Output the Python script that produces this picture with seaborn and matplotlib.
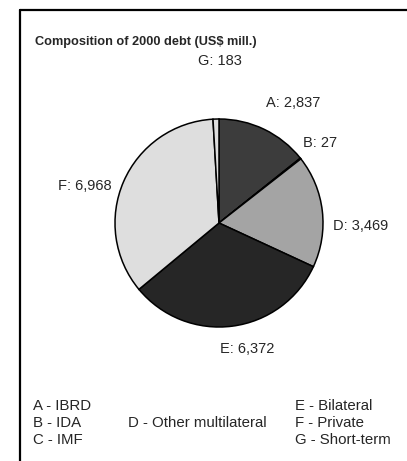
import matplotlib
matplotlib.use("Agg")
import matplotlib.pyplot as plt
import seaborn as sns
import numpy as np
from matplotlib.lines import Line2D

OUTPUT_FILE = 'out.png'

# --- data ---
codes = ['A', 'B', 'C', 'D', 'E', 'F', 'G']
names = ['IBRD', 'IDA', 'IMF', 'Other multilateral', 'Bilateral', 'Private', 'Short-term']
values = [2837, 27, 0, 3469, 6372, 6968, 183]
value_labels = ['2,837', '27', '0', '3,469', '6,372', '6,968', '183']

# scan-like grey fills
colors = {'A': '#3c3c3c', 'B': '#555555', 'C': '#888888', 'D': '#a4a4a4',
          'E': '#262626', 'F': '#dedede', 'G': '#dedede'}
# label placement: (distance in radii, angle nudge in degrees)
label_pos = {'A': (1.36, -6), 'B': (1.24, 0), 'D': (1.36, -8),
             'E': (1.24, 5), 'F': (1.34, 8), 'G': (1.56, -2)}


def main():
    sns.set_theme(style="white")
    plt.rcParams['font.family'] = ['Liberation Sans', 'DejaVu Sans']

    W, H = 407, 461
    fig = plt.figure(figsize=(W / 100, H / 100), dpi=100)
    fig.patch.set_facecolor('white')

    # pie axes: centre ~(219, 223) px, radius ~104 px
    cx, cy, r = 219, 223, 104
    ax = fig.add_axes([(cx - r) / W, 1 - (cy + r) / H, 2 * r / W, 2 * r / H])
    ax.set_aspect('equal')

    keep = [i for i, v in enumerate(values) if v > 0]
    vals = [values[i] for i in keep]
    keys = [codes[i] for i in keep]
    wedges, _ = ax.pie(vals, startangle=90, counterclock=False,
                       colors=[colors[k] for k in keys],
                       wedgeprops=dict(edgecolor='black', linewidth=1.1))
    ax.set_xlim(-1, 1)
    ax.set_ylim(-1, 1)

    for w, k in zip(wedges, keys):
        dist, nudge = label_pos[k]
        ang = np.deg2rad((w.theta1 + w.theta2) / 2 + nudge)
        i = codes.index(k)
        ax.text(dist * np.cos(ang), dist * np.sin(ang), f'{k}: {value_labels[i]}',
                ha='center', va='center', fontsize=10.5, clip_on=False)

    # title
    fig.text(35 / W, 1 - 42 / H, 'Composition of 2000 debt (US$ mill.)',
             fontsize=9.2, fontweight='bold', ha='left', va='center')

    # legend text block
    rows = [406, 423, 440]
    fs = 10.8
    for j, k in enumerate(['A', 'B', 'C']):
        fig.text(33 / W, 1 - rows[j] / H, f'{k} - {names[codes.index(k)]}',
                 fontsize=fs, ha='left', va='center')
    fig.text(128 / W, 1 - rows[1] / H, f'D - {names[3]}', fontsize=fs, ha='left', va='center')
    for j, k in enumerate(['E', 'F', 'G']):
        fig.text(295 / W, 1 - rows[j] / H, f'{k} - {names[codes.index(k)]}',
                 fontsize=fs, ha='left', va='center')

    # frame (left and top edges only)
    fig.add_artist(Line2D([20 / W, 20 / W], [0, 1 - 10 / H], color='black', linewidth=1.6))
    fig.add_artist(Line2D([20 / W, 1], [1 - 10 / H, 1 - 10 / H], color='black', linewidth=1.6))

    fig.savefig(OUTPUT_FILE, dpi=100)


if __name__ == '__main__':
    main()
